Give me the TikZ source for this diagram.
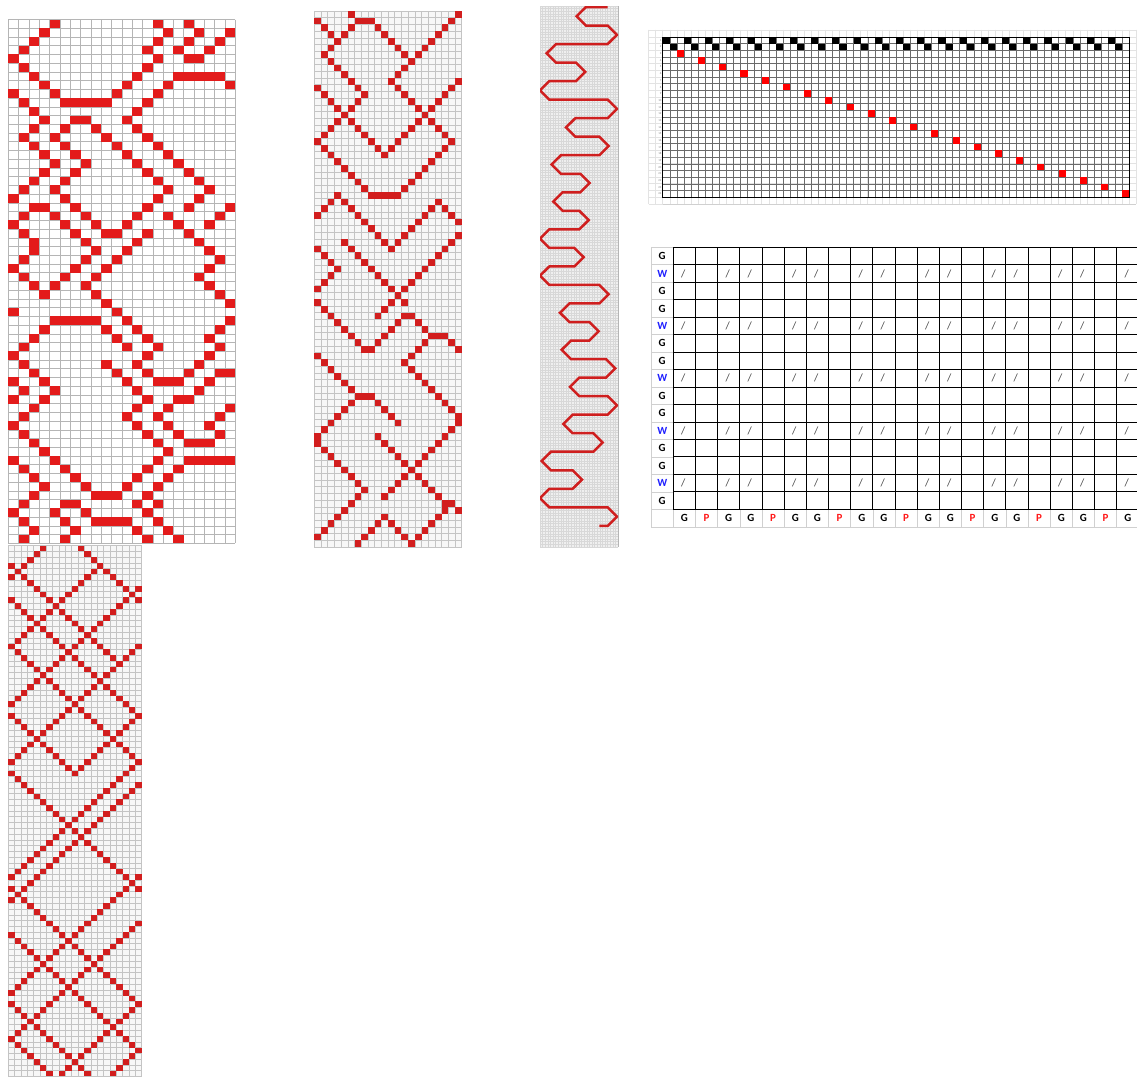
\documentclass[tikz,border=0pt]{standalone}
\usepackage{fontspec}
\setmainfont{Carlito}
\definecolor{pAred}{HTML}{E31B1B}
\definecolor{pBred}{HTML}{D21E1E}
\definecolor{wavered}{HTML}{CF1F1F}
\definecolor{gridA}{HTML}{B5B5B5}
\definecolor{gridB}{HTML}{C4C4C4}
\definecolor{gridC}{HTML}{D8D8D8}
\definecolor{wavebg}{HTML}{EFEFEF}
\definecolor{cellB}{HTML}{F7F7F7}
\definecolor{faint}{HTML}{E3E3E3}
\definecolor{tabgray}{HTML}{6A6A6A}
\definecolor{lblgray}{HTML}{D0D0D0}
\definecolor{wblue}{HTML}{1F1FFF}
\definecolor{pred}{HTML}{FF1A1A}
\definecolor{slgray}{HTML}{404040}
\tikzset{
  pfill/.style={fill=pAred},
  gline/.style={draw=gridA,line width=0.5bp},
  lblfont/.style={font=\bfseries\fontsize{11}{11}\selectfont,inner sep=0pt},
  slfont/.style={font=\fontsize{11}{11}\selectfont,inner sep=0pt,text=slgray},
}
\newcommand\pgridlines[2]{%
  \foreach \ii in {0,...,#1}{\draw[gline] (\ii,0) -- (\ii,#2);}%
  \foreach \jj in {0,...,#2}{\draw[gline] (0,\jj) -- (#1,\jj);}}
\newcommand\prow[2]{\foreach \cc in {#2}{\fill[pfill] (\cc,#1) rectangle ++(1,1);}}
\newcommand\pseg[4]{%
  \pgfmathtruncatemacro\segN{max(abs(#3-#1),abs(#4-#2))}%
  \pgfmathtruncatemacro\segD{max(\segN,1)}%
  \foreach \ii in {0,...,\segN}{%
    \pgfmathtruncatemacro\segC{round(#1+(#3-#1)*\ii/\segD)}%
    \pgfmathtruncatemacro\segR{round(#2+(#4-#2)*\ii/\segD)}%
    \fill[pfill] (\segC,\segR) rectangle ++(1,1);}}
\begin{document}
\begin{tikzpicture}[x=1bp,y=-1bp]
\useasboundingbox (0,0) rectangle (1137,1079);
\fill[white] (0,0) rectangle (1137,1079);

% ---------------- panel 1 ----------------
\begin{scope}[shift={(8.3,19.5)},x=10.32bp,y=-8.73bp,pfill/.style={fill=pAred},gline/.style={draw=gridA,line width=0.5bp}]
\fill[white] (0,0) rectangle (22,60);
\pgridlines{22}{60}
\prow{0}{4,14,17}
\prow{1}{3,15,18,21}
\prow{2}{2,14,17,20}
\prow{3}{1,13,16,19}
\prow{4}{0,14,17,18}
\prow{5}{1,13}
\prow{6}{2,12,16,17,18,19,20}
\prow{7}{3,11,15,21}
\prow{8}{0,4,10,14}
\prow{9}{1,5,6,7,8,9,13}
\prow{10}{2,12}
\prow{11}{3,6,7,11}
\prow{12}{2,5,8,12}
\prow{13}{1,4,9,13}
\prow{14}{2,5,10,14}
\prow{15}{3,6,11,15}
\prow{16}{4,7,12,16}
\prow{17}{3,6,13,17}
\prow{18}{2,5,14,18}
\prow{19}{1,4,15,19}
\prow{20}{0,5,14,18}
\prow{21}{2,3,6,13,17,21}
\prow{22}{1,4,7,12,15,20}
\prow{23}{0,5,8,11,16,19}
\prow{24}{1,6,9,10,13,17}
\prow{25}{2,7,12,18}
\prow{26}{2,8,11,19}
\prow{27}{1,7,10,20}
\prow{28}{0,6,9,19}
\prow{29}{1,5,8,18}
\prow{30}{2,4,7,19}
\prow{31}{3,8,20}
\prow{32}{9,21}
\prow{33}{0,10}
\prow{34}{4,5,6,7,8,11,21}
\prow{35}{3,9,12,20}
\prow{36}{2,10,13,19}
\prow{37}{1,11,14,20}
\prow{38}{0,13,19}
\prow{39}{1,9,12,18}
\prow{40}{2,10,13,17,20,21}
\prow{41}{0,3,11,14,15,16,19}
\prow{42}{1,4,12,18}
\prow{43}{0,3,13,16,17}
\prow{44}{2,12,15,21}
\prow{45}{1,11,14,20}
\prow{46}{0,12,15,19}
\prow{47}{1,13,16,20}
\prow{48}{2,14,17,18,19}
\prow{49}{3,15}
\prow{50}{0,4,14,17,18,19,20,21}
\prow{51}{1,5,13,16}
\prow{52}{2,6,12,15}
\prow{53}{3,7,11,14}
\prow{54}{2,8,9,10,13}
\prow{55}{1,5,6,12,14}
\prow{56}{0,4,7,13}
\prow{57}{1,5,8,9,10,11,14}
\prow{58}{2,6,12,15}
\prow{59}{1,5,13,16}
\end{scope}

% ---------------- panel 2 ----------------
\begin{scope}[shift={(314.3,11)},x=6.7bp,y=-6.7bp,pfill/.style={fill=pBred},gline/.style={draw=gridB,line width=0.45bp}]
\fill[cellB] (0,0) rectangle (22,80);
\pgridlines{22}{80}
\pseg{5}{0}{5}{0}
\pseg{6}{1}{8}{1}
\pseg{8}{1}{14}{7}
\pseg{21}{0}{11}{10}
\pseg{11}{10}{20}{19}
\pseg{21}{10}{10}{21}
\pseg{0}{11}{10}{21}
\pseg{6}{1}{1}{6}
\pseg{1}{6}{7}{12}
\pseg{7}{12}{0}{19}
\pseg{0}{1}{3}{4}
\pseg{0}{19}{8}{27}
\pseg{8}{27}{12}{27}
\pseg{20}{19}{12}{27}
\pseg{3}{27}{0}{30}
\pseg{3}{27}{11}{35}
\pseg{12}{34}{18}{28}
\pseg{18}{28}{21}{31}
\pseg{0}{35}{3}{38}
\pseg{3}{38}{0}{41}
\pseg{4}{34}{13}{43}
\pseg{21}{33}{9}{45}
\pseg{0}{43}{7}{50}
\pseg{7}{50}{8}{50}
\pseg{8}{50}{12}{46}
\pseg{13}{45}{14}{45}
\pseg{15}{46}{17}{48}
\pseg{17}{48}{19}{48}
\pseg{20}{49}{21}{50}
\pseg{13}{52}{16}{49}
\pseg{13}{52}{21}{60}
\pseg{0}{51}{6}{57}
\pseg{6}{57}{8}{57}
\pseg{0}{63}{5}{58}
\pseg{9}{58}{12}{61}
\pseg{0}{64}{7}{71}
\pseg{7}{71}{0}{78}
\pseg{10}{75}{6}{79}
\pseg{10}{75}{14}{79}
\pseg{15}{78}{19}{74}
\pseg{9}{63}{18}{72}
\pseg{19}{73}{20}{73}
\pseg{21}{74}{21}{74}
\pseg{21}{61}{10}{72}
\end{scope}

% ---------------- panel 4 ----------------
\begin{scope}[shift={(8.2,545.5)},x=6.35bp,y=-5.77bp,pfill/.style={fill=pBred},gline/.style={draw=gridB,line width=0.45bp}]
\fill[cellB] (0,0) rectangle (21,92);
\pgridlines{21}{92}
\pseg{5}{0}{0}{5}
\pseg{11}{0}{20}{9}
\pseg{14}{3}{0}{17}
\pseg{20}{7}{0}{27}
\pseg{0}{3}{17}{20}
\pseg{20}{17}{0}{37}
\pseg{0}{9}{20}{29}
\pseg{0}{17}{20}{37}
\pseg{20}{29}{10}{39}
\pseg{0}{29}{10}{39}
\pseg{0}{39}{20}{59}
\pseg{20}{37}{0}{57}
\pseg{20}{41}{0}{61}
\pseg{0}{59}{20}{79}
\pseg{20}{57}{0}{77}
\pseg{0}{67}{20}{87}
\pseg{20}{65}{0}{85}
\pseg{0}{79}{12}{91}
\pseg{20}{79}{8}{91}
\pseg{0}{85}{6}{91}
\pseg{20}{87}{16}{91}
\end{scope}

% ---------------- panel 3 (wave) ----------------
\begin{scope}[shift={(540,6)}]
\fill[wavebg] (0,0) rectangle (78,541);
\foreach \ii in {0,...,30}{\draw[gridC,line width=0.35bp] (\ii*2.6,0) -- (\ii*2.6,541);}
\foreach \jj in {0,...,208}{\draw[gridC,line width=0.35bp] (0,\jj*2.6) -- (78,\jj*2.6);}
\draw[gridA,line width=0.6bp] (78,0) -- (78,541);
\end{scope}
\begin{scope}
\clip (540,6) rectangle (618,547);
\begin{scope}[shift={(536,3)},x=0.3333bp,y=-0.3333bp]
\draw[wavered,line width=2.5bp,line join=miter]
 (215,12) -- (150,12) -- (122,39.8) -- (150,67.6) -- (215,67.6) -- (243,95.4) -- (215,123.2)
 -- (60,123.2) -- (32,151) -- (60,178.8) -- (120,178.8) -- (148,206.6) -- (120,234.4)
 -- (40,234.4) -- (12,262.2) -- (40,290) -- (215,290) -- (243,317.8) -- (215,345.6)
 -- (118,345.6) -- (90,373.4) -- (118,401.2) -- (190,401.2) -- (218,429) -- (190,456.8)
 -- (75,456.8) -- (47,484.6) -- (75,512.4) -- (133,512.4) -- (161,540.2) -- (133,568)
 -- (80,568) -- (52,595.8) -- (80,623.6) -- (130,623.6) -- (158,651.4) -- (130,679.2)
 -- (40,679.2) -- (12,707) -- (40,734.8) -- (115,734.8) -- (143,762.6) -- (115,790.4)
 -- (40,790.4) -- (12,818.2) -- (40,846) -- (190,846) -- (218,873.8) -- (190,901.6)
 -- (100,901.6) -- (72,929.4) -- (100,957.2) -- (160,957.2) -- (188,985) -- (160,1012.8)
 -- (105,1012.8) -- (77,1040.6) -- (105,1068.4) -- (210,1068.4) -- (238,1096.2) -- (210,1124)
 -- (130,1124) -- (102,1151.8) -- (130,1179.6) -- (215,1179.6) -- (243,1207.4) -- (215,1235.2)
 -- (110,1235.2) -- (82,1263) -- (110,1290.8) -- (172,1290.8) -- (200,1318.6) -- (172,1346.4)
 -- (45,1346.4) -- (17,1374.2) -- (45,1402) -- (110,1402) -- (138,1429.8) -- (110,1457.6)
 -- (40,1457.6) -- (12,1485.4) -- (40,1513.2) -- (215,1513.2) -- (243,1541) -- (215,1568.8)
 -- (190,1568.8);
\end{scope}
\end{scope}

% ---------------- panel 5 (threading draft) ----------------
\begin{scope}[shift={(662.7,37)},x=7.07bp,y=-6.67bp]
\foreach \ii in {-2,...,67}{\draw[faint,line width=0.5bp] (\ii,-1.1) -- (\ii,25.1);}
\foreach \jj in {-1,...,25}{\draw[faint,line width=0.5bp] (-2,\jj) -- (67,\jj);}
\foreach \ii in {0,...,66}{\draw[tabgray,line width=0.45bp] (\ii,0) -- (\ii,24);}
\foreach \jj in {0,...,24}{\draw[tabgray,line width=0.45bp] (0,\jj) -- (66,\jj);}
\draw[black,line width=0.8bp] (0,0) rectangle (66,24);
\draw[lblgray,line width=1bp] (0,25.1) -- (67,25.1);
\foreach \k in {0,...,21}{%
  \fill[black] (3*\k,0) rectangle ++(1,1);
  \fill[black] (3*\k+1,1) rectangle ++(1,1);
  \fill[red] (3*\k+2,\k+2) rectangle ++(1,1);}
\foreach \jj in {1,...,24}{\node[font=\fontsize{3}{3}\selectfont,text=gray,anchor=east,inner sep=0pt] at (-0.15,\jj-0.5) {\jj};}
\end{scope}

% ---------------- panel 6 (table) ----------------
\begin{scope}[shift={(673.3,247.3)},x=22.17bp,y=-17.47bp]
\foreach \jj in {0,...,16}{\draw[lblgray,line width=0.6bp] (-1,\jj) -- (0,\jj);}
\draw[lblgray,line width=0.6bp] (-1,0) -- (-1,16);
\foreach \ii in {0,...,21}{\draw[lblgray,line width=0.6bp] (\ii,15) -- (\ii,16);}
\draw[lblgray,line width=0.6bp] (-1,16) -- (21,16);
\foreach \ii in {0,...,21}{\draw[black,line width=0.9bp] (\ii,0) -- (\ii,15);}
\foreach \jj in {0,...,15}{\draw[black,line width=0.9bp] (0,\jj) -- (21,\jj);}
\foreach \lab/\col [count=\jj from 0] in {G/black,W/wblue,G/black,G/black,W/wblue,G/black,G/black,W/wblue,G/black,G/black,W/wblue,G/black,G/black,W/wblue,G/black}{%
  \node[lblfont,text=\col] (rl\jj) at (-0.5,\jj+0.5) {\lab};}
\foreach \ii in {0,...,20}{%
  \pgfmathtruncatemacro\mm{mod(\ii,3)}%
  \ifnum\mm=1
    \node[lblfont,text=pred] (cl\ii) at (\ii+0.5,15.5) {P};
  \else
    \node[lblfont,text=black] (cl\ii) at (\ii+0.5,15.5) {G};
  \fi}
\foreach \jj in {1,4,7,10,13}{%
  \foreach \ii in {0,...,20}{%
    \pgfmathtruncatemacro\mm{mod(\ii,3)}%
    \ifnum\mm=1\relax\else
      \node[slfont] (sl\jj x\ii) at (\ii+0.45,\jj+0.5) {/};
    \fi}}
\end{scope}
\end{tikzpicture}
\end{document}
